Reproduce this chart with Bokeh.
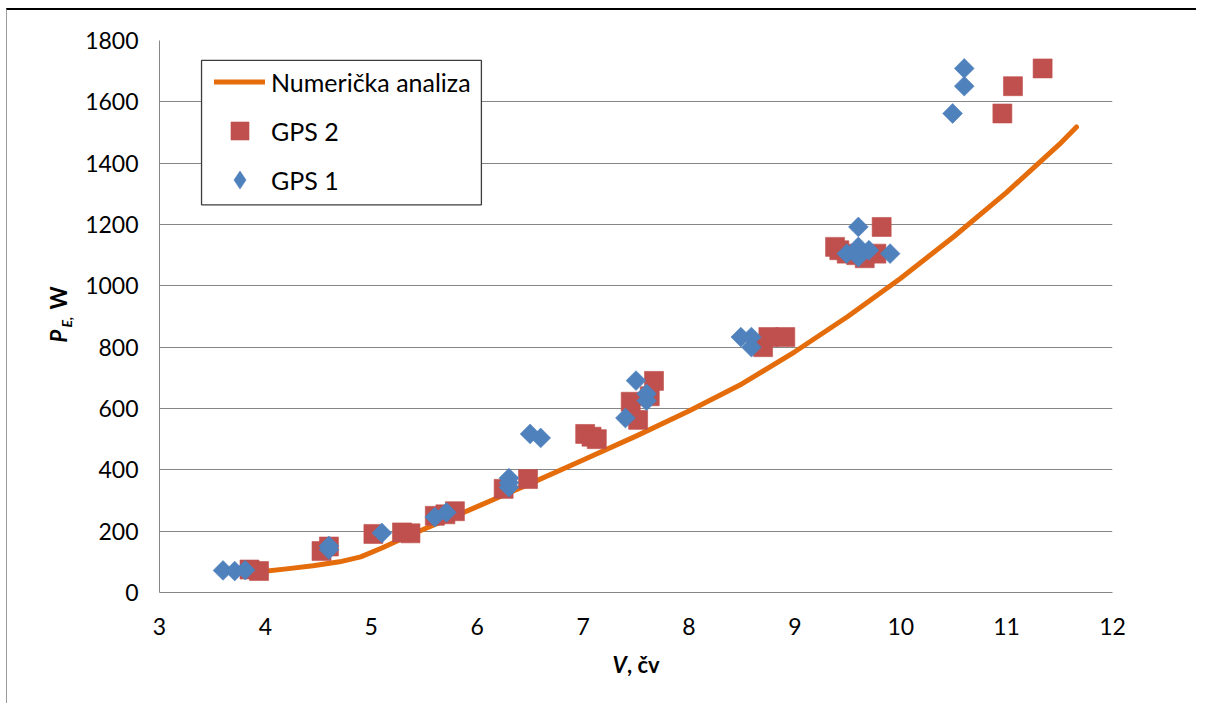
import numpy as np
from bokeh.plotting import figure
from bokeh.models import (Range1d, SingleIntervalTicker, Legend, LegendItem,
                          Label, BoxAnnotation)
from bokeh.embed import file_html
from bokeh.resources import INLINE

# ---- data ----
line_v = [3.95, 4.2, 4.45, 4.7, 4.9, 5.1, 5.3, 5.5, 5.75, 6.0, 6.5, 7.0, 7.5, 8.0,
          8.5, 9.0, 9.5, 10.0, 10.5, 11.0, 11.5, 11.66]
line_p = [68, 77, 87, 100, 116, 145, 177, 207, 243, 280, 355, 432, 510, 592,
          680, 785, 900, 1025, 1160, 1305, 1462, 1518]

gps2_v = [3.85, 3.94, 4.53, 4.60, 5.02, 5.29, 5.37, 5.60, 5.70, 5.79, 6.25, 6.48,
          7.02, 7.08, 7.13, 7.45, 7.52, 7.63, 7.67, 8.70, 8.75, 8.91,
          9.38, 9.42, 9.49, 9.58, 9.66, 9.77, 9.82, 10.96, 11.06, 11.34]
gps2_p = [75, 70, 135, 150, 191, 196, 193, 250, 255, 265, 338, 370,
          517, 508, 500, 622, 563, 640, 690, 800, 833, 833,
          1127, 1116, 1105, 1100, 1090, 1105, 1192, 1562, 1651, 1709]

gps1_v = [3.60, 3.71, 3.81, 4.60, 4.60, 5.10, 5.60, 5.71, 6.30, 6.30, 6.30,
          6.50, 6.60, 7.40, 7.50, 7.60, 7.60, 8.49, 8.59, 8.59,
          9.49, 9.60, 9.60, 9.60, 9.70, 9.90, 10.49, 10.60, 10.60]
gps1_p = [72, 70, 73, 140, 152, 194, 246, 261, 343, 358, 373,
          517, 504, 569, 691, 648, 625, 833, 833, 800,
          1105, 1192, 1127, 1094, 1116, 1105, 1562, 1651, 1709]

x_ticks_interval = 1
y_ticks_interval = 200

ORANGE = "#E46C0A"
RED = "#C0504D"
BLUE = "#4F81BD"
GRID = "#868686"
FONT = "Lato"

p = figure(width=1190, height=695, output_backend="svg", toolbar_location=None,
           x_range=Range1d(3, 12), y_range=Range1d(0, 1800),
           min_border_left=152, min_border_right=85, min_border_top=30,
           min_border_bottom=113)
p.styles = {"margin-top": "8px", "margin-left": "6px",
            "border-top": "2px solid #000000", "border-left": "1px solid #9a9a9a"}
p.outline_line_color = None
p.background_fill_color = "white"
p.border_fill_color = "white"

for ax in (p.xaxis[0], p.yaxis[0]):
    ax.axis_line_color = GRID
    ax.axis_line_width = 1
    ax.major_tick_out = 0
    ax.major_tick_in = 0
    ax.minor_tick_out = 0
    ax.minor_tick_in = 0
    ax.major_label_text_font = FONT
    ax.major_label_text_font_size = "23px"
    ax.major_label_text_color = "#000000"
p.xaxis.ticker = SingleIntervalTicker(interval=x_ticks_interval)
p.yaxis.ticker = SingleIntervalTicker(interval=y_ticks_interval)
p.xaxis.major_label_standoff = 25
p.yaxis.major_label_standoff = 21

p.xgrid.visible = False
p.ygrid.grid_line_color = GRID
p.ygrid.grid_line_width = 1

r_line = p.line(line_v, line_p, line_width=5, line_color=ORANGE,
                line_cap="round", line_join="round")
r2 = p.scatter(gps2_v, gps2_p, marker="square", size=19,
               fill_color=RED, line_color=RED, line_alpha=0.6)
r1 = p.scatter(gps1_v, gps1_p, marker="square", angle=np.pi / 4, size=14,
               fill_color=BLUE, line_color=BLUE, line_alpha=0.6)
# hidden twin of GPS 1 used only to draw the diamond key in the legend
r1_key = p.scatter(gps1_v, gps1_p, marker="diamond", size=18,
                   fill_color=BLUE, line_color=BLUE, line_alpha=0.6, visible=False)

# legend frame
box = BoxAnnotation(left=3.397, right=6.040, bottom=1264, top=1735,
                    fill_color="white", fill_alpha=1.0,
                    line_color="#3c3c3c", line_width=1.3, line_alpha=1.0)
p.add_layout(box)

legend = Legend(items=[LegendItem(label="Numerička analiza", renderers=[r_line]),
                       LegendItem(label="GPS 2", renderers=[r2]),
                       LegendItem(label="GPS 1", renderers=[r1_key])],
                location=(55, 390), orientation="vertical",
                glyph_width=51, glyph_height=45, spacing=4, padding=0, margin=0,
                label_standoff=6, label_text_font=FONT,
                label_text_font_size="25px", label_text_color="#000000",
                border_line_alpha=0, background_fill_alpha=0,
                click_policy="none")
p.add_layout(legend)

# axis titles (placed in the side panels so they are not clipped)
p.add_layout(Label(x=7.278, y=-236, text="V", text_font=FONT, text_font_size="22px",
                   text_font_style="bold italic", text_align="left",
                   text_color="#000000", text_baseline="alphabetic"), "below")
p.add_layout(Label(x=7.415, y=-236, text=", čv", text_font=FONT, text_font_size="22px",
                   text_font_style="bold", text_align="left",
                   text_color="#000000", text_baseline="alphabetic"), "below")

p.add_layout(Label(x=2.05, y=815, text="P", text_font=FONT, text_font_size="22px",
                   text_font_style="bold italic", angle=np.pi / 2, text_color="#000000",
                   text_align="left", text_baseline="alphabetic"), "left")
p.add_layout(Label(x=2.118, y=864, text="E,", text_font=FONT, text_font_size="14px",
                   text_font_style="bold italic", angle=np.pi / 2, text_color="#000000",
                   text_align="left", text_baseline="alphabetic"), "left")
p.add_layout(Label(x=2.05, y=923, text="W", text_font=FONT, text_font_size="22px",
                   text_font_style="bold", angle=np.pi / 2, text_color="#000000",
                   text_align="left", text_baseline="alphabetic"), "left")

open("out.html", "w").write(file_html(p, INLINE))
